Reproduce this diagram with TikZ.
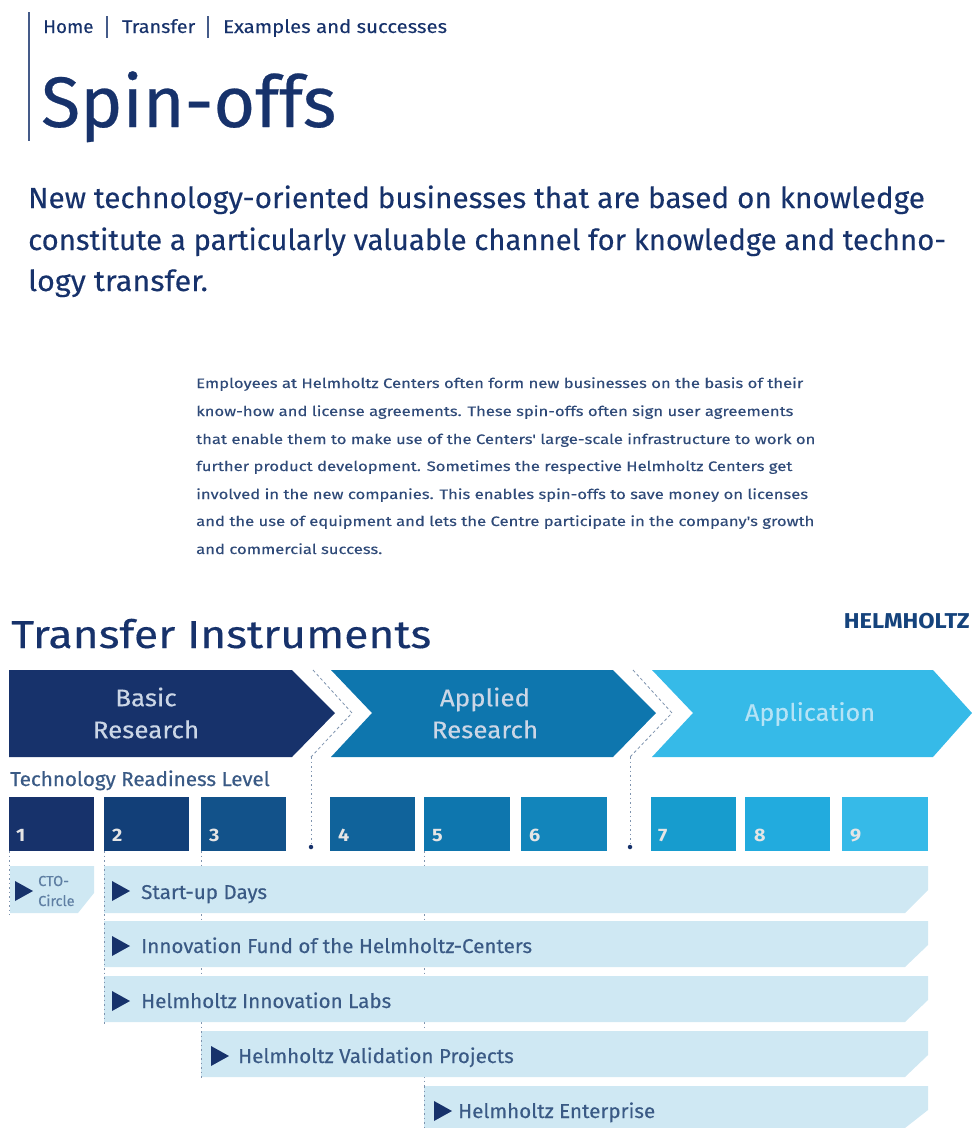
\documentclass[tikz,border=0pt]{standalone}
\usepackage{fontspec}
\setmainfont{Fira Sans}[FakeBold=0.35]
\newfontfamily\plainf{Fira Sans}[FakeBold=0.2]
\newfontfamily\paraf{Fira Sans}[FakeStretch=1.215,FakeBold=0.3]
\newfontfamily\crumbf{Fira Sans}[FakeStretch=1.1,FakeBold=0.2]
\newfontfamily\crumbhomef{Fira Sans}[FakeStretch=1.02,FakeBold=0.2]
\newfontfamily\crumbtransf{Fira Sans}[FakeStretch=1.07,FakeBold=0.2]
\newfontfamily\subf{Fira Sans}[FakeStretch=1.026,FakeBold=0.25]
\newfontfamily\subbf{Fira Sans}[FakeStretch=1.01,FakeBold=0.25]
\newfontfamily\subcf{Fira Sans}[FakeStretch=1.055,FakeBold=0.25]
\newfontfamily\headf{Fira Sans}[FakeStretch=1.14,FakeBold=0.3]
\newfontfamily\labelf{Fira Sans}[FakeStretch=1.03,FakeBold=0.3]
\newfontfamily\trlheadf{Fira Sans}[FakeStretch=1.03,FakeBold=0.6]
\newfontfamily\stagef{Fira Sans}[FakeStretch=1.08,FakeBold=0.3]
\newfontfamily\stagecf{Fira Sans}[FakeStretch=1.05,FakeBold=0.3]
\newfontfamily\boldf{Fira Sans Bold}[FakeStretch=1.1]
\definecolor{navy}{HTML}{17326B}
\definecolor{body}{HTML}{2F4A78}
\definecolor{barfill}{HTML}{CFE8F3}
\definecolor{barText}{HTML}{3A5A85}
\definecolor{ctoText}{HTML}{5F7FA3}
\definecolor{dots}{HTML}{7E93AE}
\definecolor{stageA}{HTML}{17326B}
\definecolor{stageB}{HTML}{0E76AE}
\definecolor{stageC}{HTML}{36BAE8}
\definecolor{lblPale}{HTML}{CBD6E6}
\definecolor{lblApp}{HTML}{B5E3F6}
\definecolor{lvlA}{HTML}{17326B}
\definecolor{lvlB}{HTML}{123F78}
\definecolor{lvlC}{HTML}{12528A}
\definecolor{lvlD}{HTML}{10639B}
\definecolor{lvlE}{HTML}{0E76AE}
\definecolor{lvlF}{HTML}{1285BB}
\definecolor{lvlG}{HTML}{179CCE}
\definecolor{lvlH}{HTML}{22ABDE}
\definecolor{lvlI}{HTML}{36BAE8}
\tikzset{
 txt/.style={anchor=base west,inner sep=0pt,text=navy},
 para/.style={anchor=base west,inner sep=0pt,text=body,font=\paraf\fontsize{13.7}{15}\selectfont},
 stagelabel/.style={text=lblPale,font=\stagef\fontsize{24}{29}\selectfont,align=center,inner sep=0pt},
 trl/.style={draw=none,fill=#1,minimum width=85pt,minimum height=54pt,anchor=north west,inner sep=0pt},
 trlnum/.style={anchor=base west,inner sep=0pt,text=white!90!black,font=\boldf\fontsize{18}{20}\selectfont},
 barlabel/.style={anchor=base west,inner sep=0pt,text=barText,font=\labelf\fontsize{20}{24}\selectfont},
 ctolabel/.style={anchor=base west,inner sep=0pt,text=ctoText,font=\plainf\fontsize{14.5}{16}\selectfont},
 tick/.style={draw=dots,line width=1pt,dash pattern=on 1.5pt off 3pt},
 chev/.style={draw=dots,line width=.8pt,dash pattern=on 3pt off 2.5pt},
 endmark/.style={circle,fill=navy,inner sep=0pt,minimum size=4.5pt},
}
\begin{document}
\begin{tikzpicture}[x=1pt,y=-1pt]
\useasboundingbox (0,0) rectangle (972,1128);
% header
\coordinate (ruleA) at (29,12); \coordinate (ruleB) at (29,141);
\draw[navy!80,line width=1.3pt] (ruleA) -- (ruleB);
\node[txt,font=\crumbhomef\fontsize{18.5}{22}\selectfont] (crumbA) at (43,33) {Home};
\node[txt,font=\crumbtransf\fontsize{18.5}{22}\selectfont] (crumbB) at (122,33) {Transfer};
\node[txt,font=\crumbf\fontsize{18.5}{22}\selectfont] (crumbC) at (223,33) {Examples and successes};
\coordinate (sepA) at (107,16); \coordinate (sepAb) at (107,38);
\coordinate (sepB) at (208,16); \coordinate (sepBb) at (208,38);
\draw[navy!80,line width=1.3pt] (sepA) -- (sepAb) (sepB) -- (sepBb);
\node[txt,font=\fontsize{71.5}{80}\selectfont] (title) at (41,127) {Spin-offs};
\node[txt,font=\subf\fontsize{29}{35}\selectfont] (subA) at (28,208) {New technology-oriented businesses that are based on knowledge};
\node[txt,font=\subbf\fontsize{29}{35}\selectfont] (subB) at (28,250) {constitute a particularly valuable channel for knowledge and techno-};
\node[txt,font=\subcf\fontsize{29}{35}\selectfont] (subC) at (28,291) {logy transfer.};
% paragraph
\node[para] (pA) at (196,388) {Employees at Helmholtz Centers often form new businesses on the basis of their};
\node[para] (pB) at (196,416) {know-how and license agreements. These spin-offs often sign user agreements};
\node[para] (pC) at (196,444) {that enable them to make use of the Centers' large-scale infrastructure to work on};
\node[para] (pD) at (196,471) {further product development. Sometimes the respective Helmholtz Centers get};
\node[para] (pE) at (196,499) {involved in the new companies. This enables spin-offs to save money on licenses};
\node[para] (pF) at (196,526) {and the use of equipment and lets the Centre participate in the company's growth};
\node[para] (pG) at (196,554) {and commercial success.};
% transfer heading
\node[txt,font=\headf\fontsize{39}{46}\selectfont] (ti) at (11,648) {Transfer Instruments};
\node[anchor=base east,inner sep=0pt,text=navy!75!stageB,font=\boldf\fontsize{21.5}{24}\selectfont] (hz) at (970,628) {HELMHOLTZ};
% stage arrows
\fill[stageA] (9,670) -- (292,670) -- (335,713) -- (292,757) -- (9,757) -- cycle;
\fill[stageB] (331,670) -- (613,670) -- (656,713) -- (613,757) -- (331,757) -- (372,713) -- cycle;
\fill[stageC] (652,670) -- (933,670) -- (972,713) -- (933,757) -- (652,757) -- (693,713) -- cycle;
\node[stagelabel] (lblA) at (146,713) {Basic\\[3pt]Research};
\node[stagelabel] (lblB) at (485,713) {Applied\\[3pt]Research};
\node[stagelabel,text=lblApp,font=\stagecf\fontsize{24}{29}\selectfont] (lblC) at (810,714) {Application};
\node[txt,text=barText,font=\trlheadf\fontsize{20}{24}\selectfont] (trlhead) at (10,786) {Technology Readiness Level};
% chevron dotted guides
\coordinate (cA) at (313,670); \coordinate (cAm) at (352,713); \coordinate (cAb) at (311,757);
\coordinate (cB) at (633,670); \coordinate (cBm) at (672,713); \coordinate (cBb) at (630,757);
\node[endmark] (dotA) at (311,847) {};
\node[endmark] (dotB) at (630,847) {};
\draw[chev] (cA) -- (cAm) -- (cAb);
\draw[chev] (cB) -- (cBm) -- (cBb);
\draw[tick] (cAb) -- (dotA);
\draw[tick] (cBb) -- (dotB);
% levels
\node[trl=lvlA] (l1) at (9,797) {};
\node[trl=lvlB] (l2) at (104,797) {};
\node[trl=lvlC] (l3) at (201,797) {};
\node[trl=lvlD] (l4) at (330,797) {};
\node[trl=lvlE,minimum width=86pt] (l5) at (424,797) {};
\node[trl=lvlF,minimum width=86pt] (l6) at (521,797) {};
\node[trl=lvlG] (l7) at (651,797) {};
\node[trl=lvlH] (l8) at (745,797) {};
\node[trl=lvlI,minimum width=86pt] (l9) at (842,797) {};
\foreach \n/\x in {1/16,2/112,3/209,4/338,5/432,6/529,7/658,8/754,9/850}
  \node[trlnum] (num\n) at (\x,841) {\n};
% guide ticks: those behind the bars show only in the gaps
\coordinate (tA) at (9.5,851); \coordinate (tAb) at (9.5,915);
\coordinate (tB) at (104,851); \coordinate (tBb) at (104,1024);
\coordinate (tC) at (201,851); \coordinate (tCm) at (201,1031); \coordinate (tCb) at (201,1079);
\coordinate (tD) at (424,851); \coordinate (tDm) at (424,1086); \coordinate (tDb) at (424,1128);
\draw[tick] (tC) -- (tCm);
\draw[tick] (tD) -- (tDm);
% bars
\fill[barfill] (10,866) -- (94,866) -- (94,893) -- (78,913) -- (10,913) -- cycle;
\foreach \x/\y/\b in {104/866/913,104/921/967,104/976/1022,201/1031/1077,424/1086/1128}
  \fill[barfill] (\x,\y) -- (928,\y) -- (928,\y+24) -- (905,\b) -- (\x,\b) -- cycle;
\draw[tick] (tA) -- (tAb);
\draw[tick] (tB) -- (tBb);
\draw[tick] (tCm) -- (tCb);
\draw[tick] (tDm) -- (tDb);
% triangles
\foreach \x/\y in {15/891,112/891,112/946,112/1001,211/1056,434/1111}
  \fill[navy] (\x,\y-10) -- (\x+18,\y) -- (\x,\y+10) -- cycle;
% bar labels
\node[ctolabel] (cto) at (38,886) {CTO-};
\node[ctolabel] (cir) at (38,906) {Circle};
\node[barlabel] (b1) at (141,899) {Start-up Days};
\node[barlabel] (b2) at (141,953) {Innovation Fund of the Helmholtz-Centers};
\node[barlabel] (b3) at (141,1008) {Helmholtz Innovation Labs};
\node[barlabel] (b4) at (238,1063) {Helmholtz Validation Projects};
\node[barlabel] (b5) at (458,1118) {Helmholtz Enterprise};
\end{tikzpicture}
\end{document}
